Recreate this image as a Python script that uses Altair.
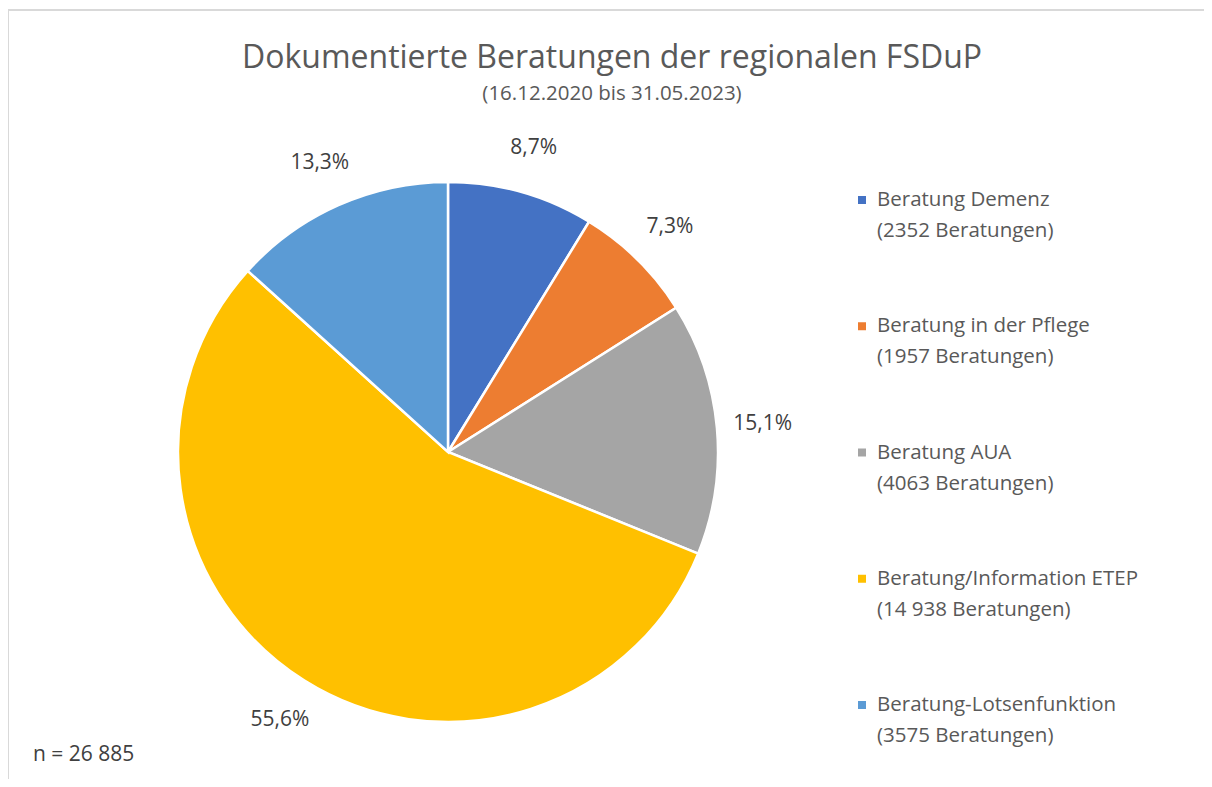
import altair as alt
import pandas as pd

categories = ["Beratung Demenz", "Beratung in der Pflege", "Beratung AUA",
              "Beratung/Information ETEP", "Beratung-Lotsenfunktion"]
counts = [2352, 1957, 4063, 14938, 3575]
pct_labels = ["8,7%", "7,3%", "15,1%", "55,6%", "13,3%"]
legend_line2 = ["(2352 Beratungen)", "(1957 Beratungen)", "(4063 Beratungen)",
                "(14 938 Beratungen)", "(3575 Beratungen)"]
colors = ["#4472C4", "#ED7D31", "#A5A5A5", "#FFC000", "#5B9BD5"]
title_text = "Dokumentierte Beratungen der regionalen FSDuP"
subtitle_text = "(16.12.2020 bis 31.05.2023)"
n_text = "n = 26 885"

FONT = "Open Sans"

df = pd.DataFrame({
    "cat": categories,
    "count": counts,
    "pct": pct_labels,
    "line2": legend_line2,
    "idx": list(range(len(categories))),
})
one = pd.DataFrame({"t": [title_text], "s": [subtitle_text], "n": [n_text]})

base = alt.Chart(df)
color = alt.Color("cat:N", scale=alt.Scale(domain=categories, range=colors), legend=None)
theta = alt.Theta("count:Q", stack=True)
order = alt.Order("idx:Q", sort="ascending")

cx, cy = 440, 444

arcs = base.mark_arc(outerRadius=270, stroke="white", strokeWidth=2.5).encode(
    theta=theta, color=color, order=order, x=alt.value(cx), y=alt.value(cy)
)
labels = base.mark_text(radius=316, fontSize=21, font=FONT, color="#404040").encode(
    theta=theta, order=order, text="pct:N", x=alt.value(cx), y=alt.value(cy)
)

ly = alt.Y("idx:Q", scale=alt.Scale(domain=[0, 4], range=[192, 697]), axis=None)
squares = base.mark_square(size=64, opacity=1).encode(
    x=alt.value(854), y=ly, color=color
)
leg1 = base.mark_text(align="left", baseline="middle", fontSize=20.5, font=FONT, color="#595959").encode(
    x=alt.value(869), y=ly, text="cat:N"
)
leg2 = base.mark_text(align="left", baseline="middle", dy=31, fontSize=20.5, font=FONT, color="#595959").encode(
    x=alt.value(869), y=ly, text="line2:N"
)

ob = alt.Chart(one)
title = ob.mark_text(align="center", baseline="middle", fontSize=32, font=FONT, color="#595959").encode(
    x=alt.value(604), y=alt.value(50), text="t:N"
)
subtitle = ob.mark_text(align="center", baseline="middle", fontSize=20.5, font=FONT, color="#595959").encode(
    x=alt.value(604), y=alt.value(86), text="s:N"
)
ntext = ob.mark_text(align="left", baseline="middle", fontSize=21, font=FONT, color="#404040").encode(
    x=alt.value(25), y=alt.value(747), text="n:N"
)
border_left = ob.mark_rule(color="#d9d9d9", strokeWidth=2).encode(
    x=alt.value(0), y=alt.value(2), y2=alt.value(771)
)
border_top = ob.mark_rule(color="#d9d9d9", strokeWidth=2).encode(
    x=alt.value(0), x2=alt.value(1196), y=alt.value(2)
)

chart = alt.layer(
    border_left, border_top, arcs, labels, squares, leg1, leg2, title, subtitle, ntext
).properties(
    width=1196, height=771, padding=0,
    autosize=alt.AutoSizeParams(type="none")
).configure_view(stroke=None)

chart.save("out.html", embed_options={"renderer": "svg", "actions": False})
